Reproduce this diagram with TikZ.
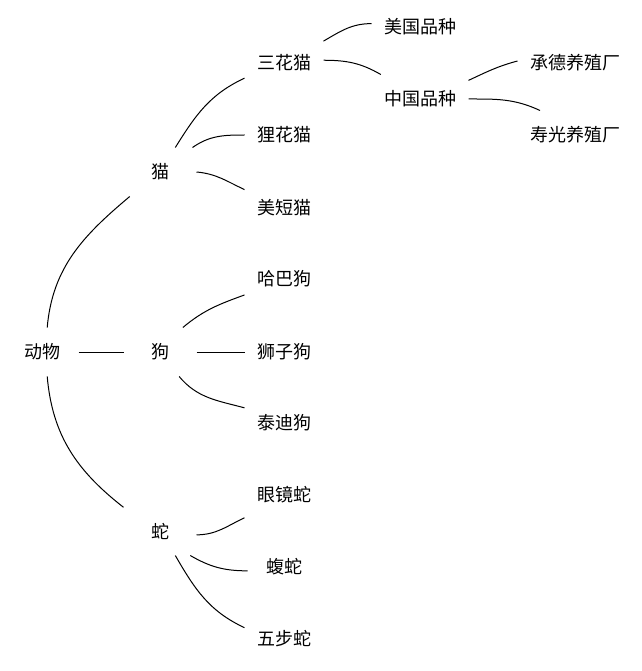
\documentclass[tikz,border=0pt]{standalone}
\usepackage{fontspec}
\setmainfont{Noto Sans CJK SC}
\usepackage{tikz}

\begin{document}
\begin{tikzpicture}[x=1pt, y=-1pt, kind/.style={rectangle, minimum width=72pt,
    minimum height=48pt, inner xsep=12pt, font=\fontsize{18}{20}\selectfont},
    line width=1pt]
  \useasboundingbox (0,0) rectangle (641,671);

  \node[kind] (animal) at (42,352) {动物};
  \node[kind] (cat) at (160,172) {猫};
  \node[kind] (dog) at (160,352) {狗};
  \node[kind] (snake) at (160,531) {蛇};

  \node[kind] (sanhua) at (284,63) {三花猫};
  \node[kind] (lihua) at (284,135) {狸花猫};
  \node[kind] (meiduan) at (284,208) {美短猫};
  \node[kind] (haba) at (284,279) {哈巴狗};
  \node[kind] (shizi) at (284,352) {狮子狗};
  \node[kind] (taidi) at (284,423) {泰迪狗};
  \node[kind] (yanjing) at (284,495) {眼镜蛇};
  \node[kind] (fu) at (284,567) {蝮蛇};
  \node[kind] (wubu) at (284,639) {五步蛇};

  \node[kind] (meiguo) at (420,27) {美国品种};
  \node[kind] (zhongguo) at (420,99) {中国品种};
  \node[kind] (chengde) at (575,63) {承德养殖厂};
  \node[kind] (shouguang) at (575,135) {寿光养殖厂};

  % first level
  \draw (animal.78) to[out=85,in=220] (cat.-141);
  \draw (animal.east) -- (dog.west);
  \draw (animal.-78) to[out=-85,in=142] (snake.147);
  % cats
  \draw (cat.58) to[out=58,in=205] (sanhua.-159);
  \draw (cat.37) to[out=35,in=180] (lihua.180);
  \draw (cat.0) to[out=-5,in=155] (meiduan.155);
  % dogs
  \draw (dog.47) to[out=40,in=200] (haba.-158);
  \draw (dog.east) -- (shizi.west);
  \draw (dog.-52) to[out=-50,in=165] (taidi.159);
  % snakes
  \draw (snake.-6) to[out=0,in=205] (yanjing.-150);
  \draw (snake.-39) to[out=-30,in=180] (fu.-174);
  \draw (snake.-58) to[out=-60,in=155] (wubu.164);
  % breeds
  \draw (sanhua.29) to[out=30,in=180] (meiguo.176);
  \draw (sanhua.4) to[out=0,in=150] (zhongguo.148);
  \draw (zhongguo.21) to[out=25,in=195] (chengde.178);
  \draw (zhongguo.0) to[out=0,in=155] (shouguang.145);
  %\draw (chengde) -- (shouguang);
\end{tikzpicture}
\end{document}
